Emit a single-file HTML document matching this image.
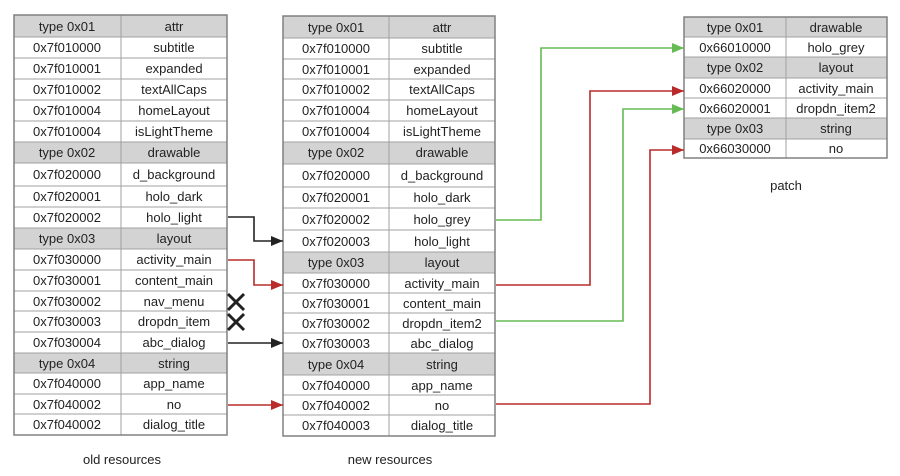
<!DOCTYPE html>
<html><head><meta charset="utf-8"><style>
html,body{margin:0;padding:0;background:#fff;width:900px;height:476px;overflow:hidden}
svg text{font-family:"Liberation Sans",sans-serif;font-size:13px;fill:#222;text-anchor:middle}
</style></head><body>
<svg width="900" height="476" viewBox="0 0 900 476" xmlns="http://www.w3.org/2000/svg">
<defs>
<marker id="ak" markerWidth="12" markerHeight="10" refX="12" refY="5" orient="auto" markerUnits="userSpaceOnUse"><path d="M0,0 L12,5 L0,10 z" fill="#222"/></marker>
<marker id="ar" markerWidth="12" markerHeight="10" refX="12" refY="5" orient="auto" markerUnits="userSpaceOnUse"><path d="M0,0 L12,5 L0,10 z" fill="#b92b2b"/></marker>
<marker id="ag" markerWidth="12" markerHeight="10" refX="12" refY="5" orient="auto" markerUnits="userSpaceOnUse"><path d="M0,0 L12,5 L0,10 z" fill="#66bb55"/></marker>
</defs>

<!-- LEFT TABLE -->
<g>
<rect x="14" y="15" width="213" height="22" fill="#d3d3d3"/>
<rect x="14" y="142" width="213" height="21" fill="#d3d3d3"/>
<rect x="14" y="228" width="213" height="21" fill="#d3d3d3"/>
<rect x="14" y="353" width="213" height="20" fill="#d3d3d3"/>
<g stroke="#a0a0a0" stroke-width="1">
<line x1="14" x2="227" y1="37" y2="37"/><line x1="14" x2="227" y1="58" y2="58"/><line x1="14" x2="227" y1="79" y2="79"/><line x1="14" x2="227" y1="100" y2="100"/><line x1="14" x2="227" y1="121" y2="121"/><line x1="14" x2="227" y1="142" y2="142"/><line x1="14" x2="227" y1="163" y2="163"/><line x1="14" x2="227" y1="186" y2="186"/><line x1="14" x2="227" y1="207" y2="207"/><line x1="14" x2="227" y1="228" y2="228"/><line x1="14" x2="227" y1="249" y2="249"/><line x1="14" x2="227" y1="270" y2="270"/><line x1="14" x2="227" y1="291" y2="291"/><line x1="14" x2="227" y1="311" y2="311"/><line x1="14" x2="227" y1="332" y2="332"/><line x1="14" x2="227" y1="353" y2="353"/><line x1="14" x2="227" y1="373" y2="373"/><line x1="14" x2="227" y1="394" y2="394"/><line x1="14" x2="227" y1="414" y2="414"/>
<line x1="121" x2="121" y1="15" y2="435"/>
</g>
<rect x="14" y="15" width="213" height="420" fill="none" stroke="#808080" stroke-width="1.5"/>
<text x="67" y="31">type 0x01</text><text x="174" y="31">attr</text>
<text x="67" y="52">0x7f010000</text><text x="174" y="52">subtitle</text>
<text x="67" y="73">0x7f010001</text><text x="174" y="73">expanded</text>
<text x="67" y="94">0x7f010002</text><text x="174" y="94">textAllCaps</text>
<text x="67" y="115">0x7f010004</text><text x="174" y="115">homeLayout</text>
<text x="67" y="136">0x7f010004</text><text x="174" y="136">isLightTheme</text>
<text x="67" y="157">type 0x02</text><text x="174" y="157">drawable</text>
<text x="67" y="179">0x7f020000</text><text x="174" y="179">d_background</text>
<text x="67" y="201">0x7f020001</text><text x="174" y="201">holo_dark</text>
<text x="67" y="222">0x7f020002</text><text x="174" y="222">holo_light</text>
<text x="67" y="243">type 0x03</text><text x="174" y="243">layout</text>
<text x="67" y="264">0x7f030000</text><text x="174" y="264">activity_main</text>
<text x="67" y="285">0x7f030001</text><text x="174" y="285">content_main</text>
<text x="67" y="306">0x7f030002</text><text x="174" y="306">nav_menu</text>
<text x="67" y="326">0x7f030003</text><text x="174" y="326">dropdn_item</text>
<text x="67" y="347">0x7f030004</text><text x="174" y="347">abc_dialog</text>
<text x="67" y="368">type 0x04</text><text x="174" y="368">string</text>
<text x="67" y="388">0x7f040000</text><text x="174" y="388">app_name</text>
<text x="67" y="409">0x7f040002</text><text x="174" y="409">no</text>
<text x="67" y="429">0x7f040002</text><text x="174" y="429">dialog_title</text>
</g>

<!-- MIDDLE TABLE -->
<g>
<rect x="283" y="16" width="212" height="22" fill="#d3d3d3"/>
<rect x="283" y="142" width="212" height="22" fill="#d3d3d3"/>
<rect x="283" y="252" width="212" height="21" fill="#d3d3d3"/>
<rect x="283" y="353" width="212" height="22" fill="#d3d3d3"/>
<g stroke="#a0a0a0" stroke-width="1">
<line x1="283" x2="495" y1="38" y2="38"/><line x1="283" x2="495" y1="59" y2="59"/><line x1="283" x2="495" y1="79" y2="79"/><line x1="283" x2="495" y1="100" y2="100"/><line x1="283" x2="495" y1="121" y2="121"/><line x1="283" x2="495" y1="142" y2="142"/><line x1="283" x2="495" y1="164" y2="164"/><line x1="283" x2="495" y1="187" y2="187"/><line x1="283" x2="495" y1="208" y2="208"/><line x1="283" x2="495" y1="230" y2="230"/><line x1="283" x2="495" y1="252" y2="252"/><line x1="283" x2="495" y1="273" y2="273"/><line x1="283" x2="495" y1="293" y2="293"/><line x1="283" x2="495" y1="313" y2="313"/><line x1="283" x2="495" y1="333" y2="333"/><line x1="283" x2="495" y1="353" y2="353"/><line x1="283" x2="495" y1="375" y2="375"/><line x1="283" x2="495" y1="395" y2="395"/><line x1="283" x2="495" y1="415" y2="415"/>
<line x1="389" x2="389" y1="16" y2="436"/>
</g>
<rect x="283" y="16" width="212" height="420" fill="none" stroke="#808080" stroke-width="1.5"/>
<text x="336" y="32">type 0x01</text><text x="442" y="32">attr</text>
<text x="336" y="53">0x7f010000</text><text x="442" y="53">subtitle</text>
<text x="336" y="74">0x7f010001</text><text x="442" y="74">expanded</text>
<text x="336" y="94">0x7f010002</text><text x="442" y="94">textAllCaps</text>
<text x="336" y="115">0x7f010004</text><text x="442" y="115">homeLayout</text>
<text x="336" y="136">0x7f010004</text><text x="442" y="136">isLightTheme</text>
<text x="336" y="157">type 0x02</text><text x="442" y="157">drawable</text>
<text x="336" y="180">0x7f020000</text><text x="442" y="180">d_background</text>
<text x="336" y="202">0x7f020001</text><text x="442" y="202">holo_dark</text>
<text x="336" y="224">0x7f020002</text><text x="442" y="224">holo_grey</text>
<text x="336" y="246">0x7f020003</text><text x="442" y="246">holo_light</text>
<text x="336" y="267">type 0x03</text><text x="442" y="267">layout</text>
<text x="336" y="288">0x7f030000</text><text x="442" y="288">activity_main</text>
<text x="336" y="308">0x7f030001</text><text x="442" y="308">content_main</text>
<text x="336" y="328">0x7f030002</text><text x="442" y="328">dropdn_item2</text>
<text x="336" y="348">0x7f030003</text><text x="442" y="348">abc_dialog</text>
<text x="336" y="369">type 0x04</text><text x="442" y="369">string</text>
<text x="336" y="390">0x7f040000</text><text x="442" y="390">app_name</text>
<text x="336" y="410">0x7f040002</text><text x="442" y="410">no</text>
<text x="336" y="430">0x7f040003</text><text x="442" y="430">dialog_title</text>
</g>

<!-- PATCH TABLE -->
<g>
<rect x="684" y="17" width="203" height="20" fill="#d3d3d3"/>
<rect x="684" y="57" width="203" height="21" fill="#d3d3d3"/>
<rect x="684" y="118" width="203" height="21" fill="#d3d3d3"/>
<g stroke="#a0a0a0" stroke-width="1">
<line x1="684" x2="887" y1="37" y2="37"/><line x1="684" x2="887" y1="57" y2="57"/><line x1="684" x2="887" y1="78" y2="78"/><line x1="684" x2="887" y1="98" y2="98"/><line x1="684" x2="887" y1="118" y2="118"/><line x1="684" x2="887" y1="139" y2="139"/>
<line x1="786" x2="786" y1="17" y2="158"/>
</g>
<rect x="684" y="17" width="203" height="141" fill="none" stroke="#808080" stroke-width="1.5"/>
<text x="735" y="32">type 0x01</text><text x="836" y="32">drawable</text>
<text x="735" y="52">0x66010000</text><text x="836" y="52">holo_grey</text>
<text x="735" y="72">type 0x02</text><text x="836" y="72">layout</text>
<text x="735" y="93">0x66020000</text><text x="836" y="93">activity_main</text>
<text x="735" y="113">0x66020001</text><text x="836" y="113">dropdn_item2</text>
<text x="735" y="133">type 0x03</text><text x="836" y="133">string</text>
<text x="735" y="153">0x66030000</text><text x="836" y="153">no</text>
</g>

<!-- ARROWS -->
<g fill="none" stroke-width="1.6">
<polyline points="228,217 254,217 254,241 283,241" stroke="#222" marker-end="url(#ak)"/>
<polyline points="228,260 254,260 254,285 283,285" stroke="#b92b2b" marker-end="url(#ar)"/>
<polyline points="228,343 283,343" stroke="#222" marker-end="url(#ak)"/>
<polyline points="228,405 283,405" stroke="#b92b2b" marker-end="url(#ar)"/>
<polyline points="496,220 541,220 541,48 684,48" stroke="#66bb55" marker-end="url(#ag)"/>
<polyline points="496,285 590,285 590,91 684,91" stroke="#b92b2b" marker-end="url(#ar)"/>
<polyline points="496,321 623,321 623,109 684,109" stroke="#66bb55" marker-end="url(#ag)"/>
<polyline points="496,404 650,404 650,150 684,150" stroke="#b92b2b" marker-end="url(#ar)"/>
</g>
<g stroke="#222" stroke-width="3">
<line x1="228" y1="294" x2="244" y2="310"/><line x1="244" y1="294" x2="228" y2="310"/>
<line x1="228" y1="314" x2="244" y2="330"/><line x1="244" y1="314" x2="228" y2="330"/>
</g>

<text x="122" y="464">old resources</text>
<text x="390" y="464">new resources</text>
<text x="786" y="190">patch</text>
</svg>
</body></html>
